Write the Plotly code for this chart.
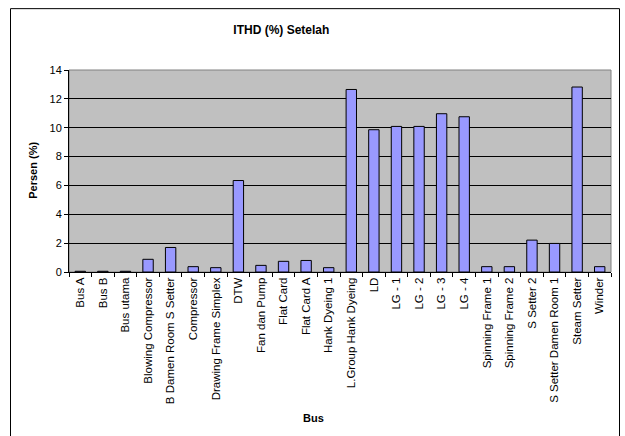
import plotly.graph_objects as go

categories = ["Bus A", "Bus B", "Bus utama", "Blowing Compressor", "B Damen Room S Setter",
              "Compressor", "Drawing Frame Simplex", "DTW", "Fan dan Pump", "Flat Card",
              "Flat Card A", "Hank Dyeing 1", "L.Group Hank Dyeing", "LD", "LG - 1", "LG - 2",
              "LG - 3", "LG - 4", "Spinning Frame 1", "Spinning Frame 2", "S Setter 2",
              "S Setter Damen Room 1", "Steam Setter", "Winder"]
values = [0.05, 0.05, 0.05, 0.88, 1.7, 0.37, 0.3, 6.34, 0.46, 0.74,
          0.8, 0.3, 12.65, 9.86, 10.09, 10.09, 10.97, 10.76, 0.37, 0.37,
          2.21, 1.98, 12.82, 0.37]
y_ticks = [0, 2, 4, 6, 8, 10, 12, 14]

FONT = "Liberation Sans, Arial, sans-serif"

fig = go.Figure(go.Bar(
    x=categories, y=values,
    marker=dict(color="#9999FF", line=dict(color="black", width=1)),
))

L, R, T, B = 69, 14, 70, 163.5
W, H = 625, 436
pw = W - L - R
ph = H - T - B

def px_x(v):
    return (v - L) / pw

def px_y(v):
    return (H - B - v) / ph

fig.update_layout(
    width=W, height=H,
    margin=dict(l=L, r=R, t=T, b=B),
    paper_bgcolor="white",
    plot_bgcolor="#C0C0C0",
    bargap=0.54,
    showlegend=False,
    font=dict(family=FONT, size=11, color="black"),
    title=dict(text="<b>ITHD (%) Setelah</b>", x=px_x(313), xanchor="center",
               y=1 - 30 / H, yanchor="middle", font=dict(size=12)),
    xaxis=dict(
        type="category", tickangle=-90, tickson="boundaries",
        ticks="outside", ticklen=4, tickcolor="black",
        showline=True, linecolor="black", linewidth=1,
        tickfont=dict(size=11.5),
        showgrid=False,
    ),
    yaxis=dict(
        range=[0, 14], tickvals=y_ticks,
        ticks="outside", ticklen=4, tickcolor="black",
        showline=True, linecolor="black", linewidth=1,
        gridcolor="black", gridwidth=1,
        tickfont=dict(size=11),
        zeroline=False,
    ),
    annotations=[
        dict(text="<b>Bus</b>", xref="paper", yref="paper", x=px_x(313), y=px_y(419),
             xanchor="center", yanchor="middle", showarrow=False, font=dict(size=11)),
        dict(text="<b>Persen (%)</b>", xref="paper", yref="paper", x=px_x(33), y=px_y(171),
             xanchor="center", yanchor="middle", showarrow=False, textangle=-90,
             font=dict(size=11)),
    ],
)

# plot area border (gray, top & right)
fig.add_shape(type="rect", xref="paper", yref="paper", x0=0, x1=1, y0=0, y1=1,
              line=dict(color="#808080", width=1), layer="below")
# outer chart border
fig.add_shape(type="rect", xref="paper", yref="paper",
              x0=px_x(10.5), x1=px_x(619.5), y0=px_y(450), y1=px_y(8.5),
              line=dict(color="black", width=1))

fig.write_html("out.html")
